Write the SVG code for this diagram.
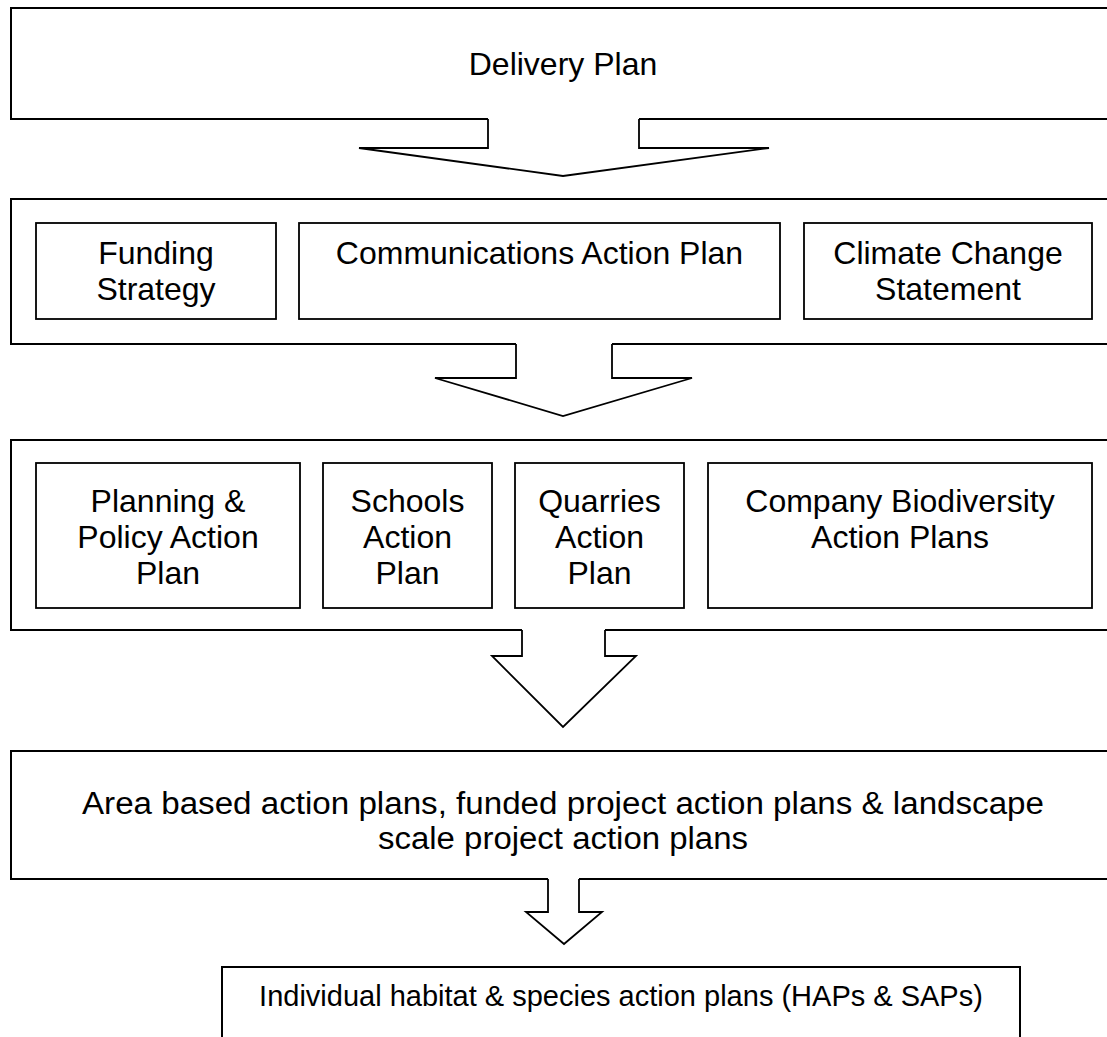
<svg xmlns="http://www.w3.org/2000/svg" width="1107" height="1037" viewBox="0 0 1107 1037">
<style>
.box{fill:#fff;stroke:#000;stroke-width:2}
.inner{fill:#fff;stroke:#000;stroke-width:1.8}
.t{font-family:"Liberation Sans",Arial,sans-serif;font-size:32px;fill:#000;text-anchor:middle}
.afill{fill:#fff;stroke:none}
.aline{fill:none;stroke:#000;stroke-width:1.8;stroke-linejoin:miter}
</style>
<rect width="1107" height="1037" fill="#fff"/>
<g id="delivery-plan">
<rect class="box" x="11" y="8" width="1120" height="111"/>
<text class="t" x="563" y="75">Delivery Plan</text>
</g>
<g id="tier2">
<rect class="box" x="11" y="199" width="1120" height="145"/>
</g>
<g id="funding-strategy">
<rect class="inner" x="36" y="223" width="240" height="96"/>
<text class="t" x="156" y="264">Funding</text>
<text class="t" x="156" y="300">Strategy</text>
</g>
<g id="communications">
<rect class="inner" x="299" y="223" width="481" height="96"/>
<text class="t" x="539.5" y="264">Communications Action Plan</text>
</g>
<g id="climate-change">
<rect class="inner" x="804" y="223" width="288" height="96"/>
<text class="t" x="948" y="264">Climate Change</text>
<text class="t" x="948" y="300">Statement</text>
</g>
<g id="tier3">
<rect class="box" x="11" y="440" width="1120" height="190"/>
</g>
<g id="planning-policy">
<rect class="inner" x="36" y="463" width="264" height="145"/>
<text class="t" x="168" y="512">Planning &amp;</text>
<text class="t" x="168" y="548">Policy Action</text>
<text class="t" x="168" y="584">Plan</text>
</g>
<g id="schools">
<rect class="inner" x="323" y="463" width="169" height="145"/>
<text class="t" x="407.5" y="512">Schools</text>
<text class="t" x="407.5" y="548">Action</text>
<text class="t" x="407.5" y="584">Plan</text>
</g>
<g id="quarries">
<rect class="inner" x="515" y="463" width="169" height="145"/>
<text class="t" x="599.5" y="512">Quarries</text>
<text class="t" x="599.5" y="548">Action</text>
<text class="t" x="599.5" y="584">Plan</text>
</g>
<g id="company-biodiversity">
<rect class="inner" x="708" y="463" width="384" height="145"/>
<text class="t" x="900" y="512">Company Biodiversity</text>
<text class="t" x="900" y="548">Action Plans</text>
</g>
<g id="area-based">
<rect class="box" x="11" y="751" width="1120" height="128"/>
<text class="t" x="563" y="814" style="font-size:31px" textLength="962" lengthAdjust="spacingAndGlyphs">Area based action plans, funded project action plans &amp; landscape</text>
<text class="t" x="563" y="849" style="font-size:31px" textLength="370" lengthAdjust="spacingAndGlyphs">scale project action plans</text>
</g>
<g id="individual-haps-saps">
<rect class="box" x="222" y="967" width="798" height="100"/>
<text class="t" x="621" y="1006" style="font-size:29px">Individual habitat &amp; species action plans (HAPs &amp; SAPs)</text>
</g>
<g id="connectors">
<path class="afill" d="M488,116 V148 H359 L563,176 L769,148 H639 V116 Z"/>
<polyline class="aline" points="488,119 488,148 359,148 563,176 769,148 639,148 639,119"/>
<path class="afill" d="M516,341 V378 H435 L563,416 L692,378 H612 V341 Z"/>
<polyline class="aline" points="516,344 516,378 435,378 563,416 692,378 612,378 612,344"/>
<path class="afill" d="M522,627 V656 H492 L563,727 L636,656 H605 V627 Z"/>
<polyline class="aline" points="522,630 522,656 492,656 563,727 636,656 605,656 605,630"/>
<path class="afill" d="M548,876 V912 H526 L564,944 L602,912 H579 V876 Z"/>
<polyline class="aline" points="548,879 548,912 526,912 564,944 602,912 579,912 579,879"/>
</g>
</svg>
